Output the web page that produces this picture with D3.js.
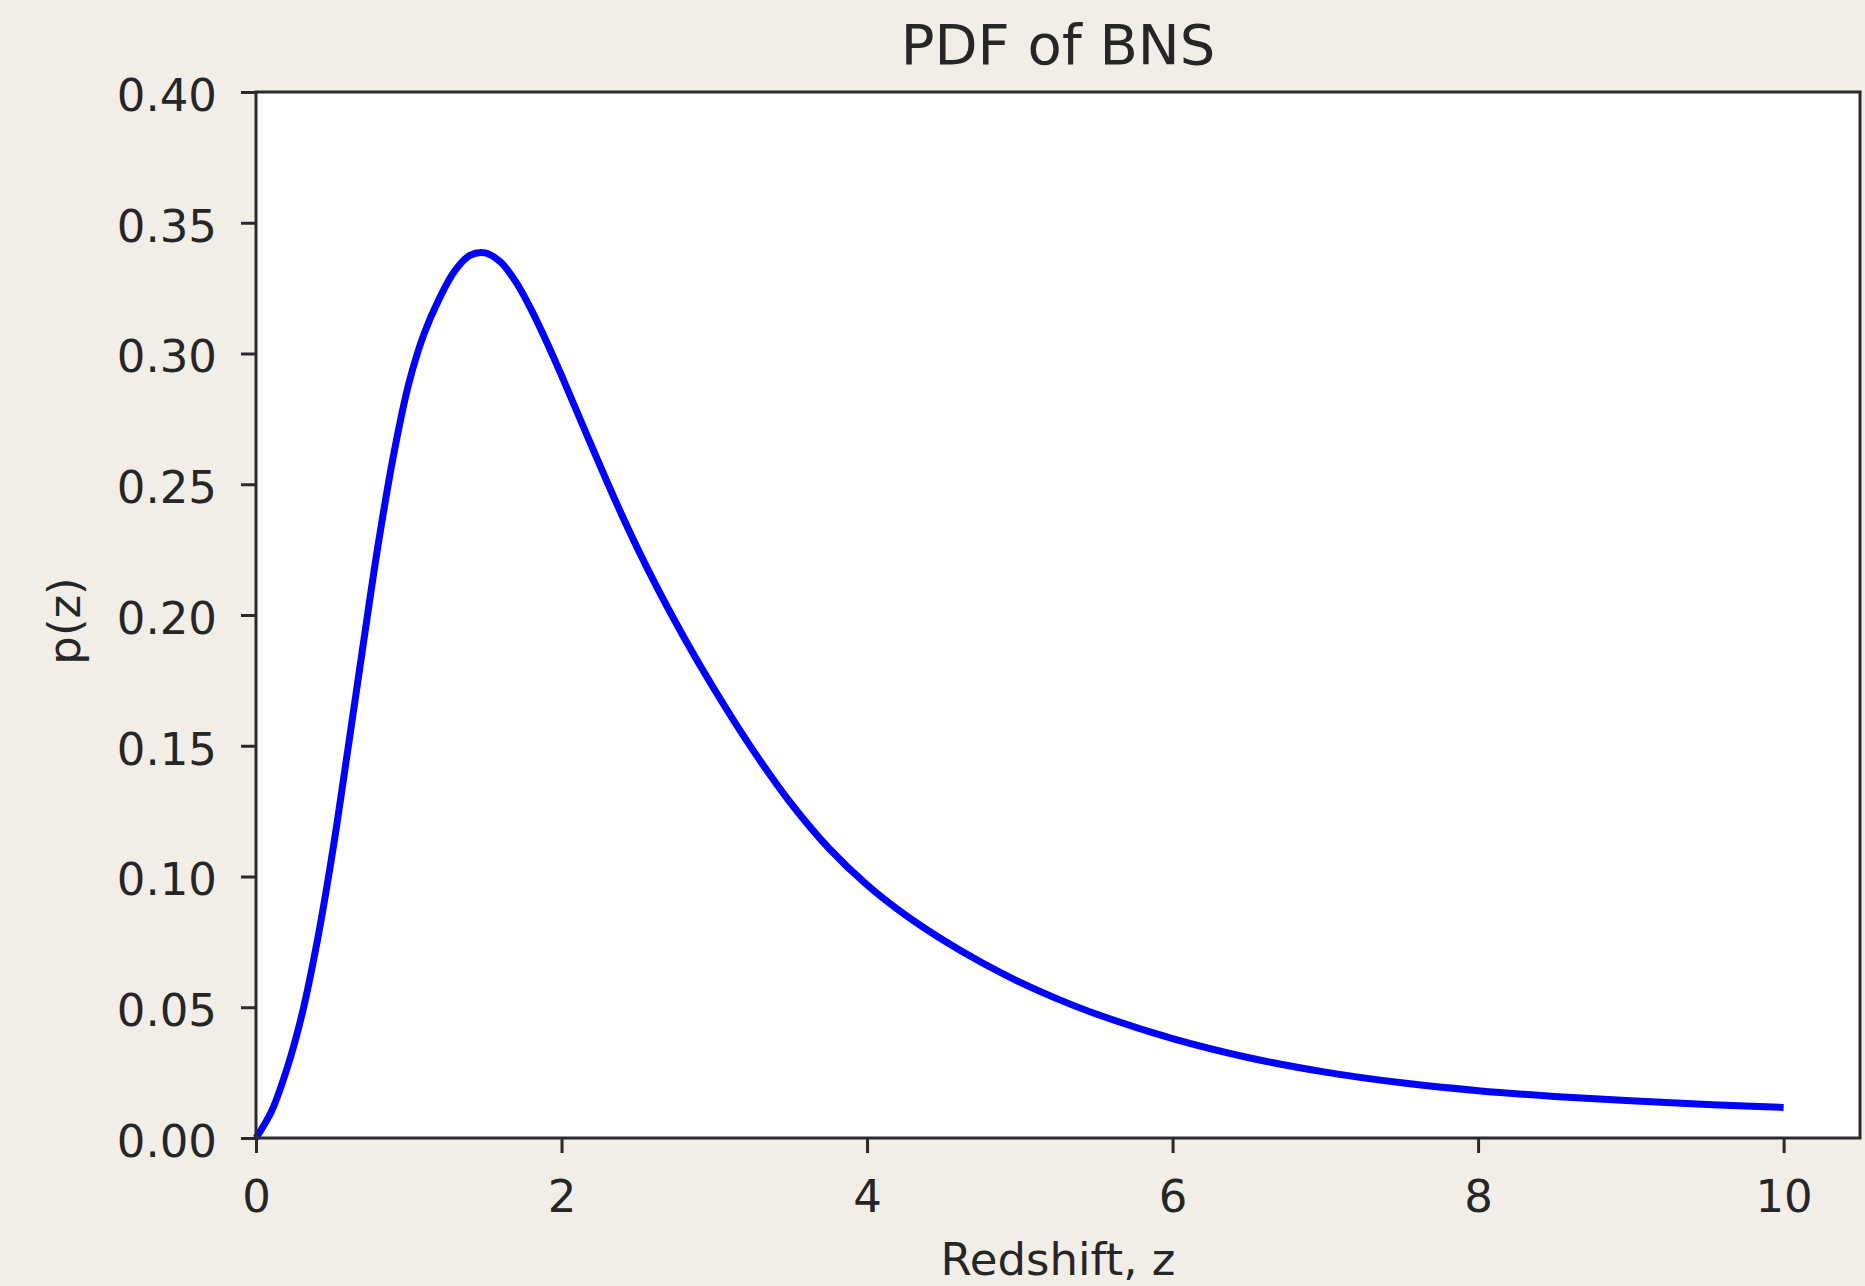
<!DOCTYPE html>
<html>
<head>
<meta charset="utf-8">
<script src="https://cdn.jsdelivr.net/npm/d3@7"></script>
<style>
  html, body { margin: 0; padding: 0; background: #f1eee8; }
  svg { display: block; }
</style>
</head>
<body>
<svg id="chart" width="1865" height="1286"></svg>
<script>
// ---- Data ----
const zValues = [0, 0.1, 0.2, 0.3, 0.4, 0.5, 0.6, 0.7, 0.8, 0.9, 1.0, 1.1, 1.2, 1.3, 1.4, 1.5, 1.6, 1.7, 1.8, 1.9, 2.0, 2.2, 2.4, 2.6, 2.8, 3.0, 3.25, 3.5, 3.75, 4.0, 4.25, 4.5, 4.75, 5.0, 5.25, 5.5, 6.0, 6.5, 7.0, 7.5, 8.0, 8.5, 9.0, 9.5, 10.0];
const pValues = [0, 0.010, 0.026, 0.047, 0.075, 0.109, 0.148, 0.188, 0.227, 0.261, 0.2885, 0.3075, 0.321, 0.3315, 0.3375, 0.3385, 0.3350, 0.3275, 0.3170, 0.3048, 0.2916, 0.2642, 0.2376, 0.2134, 0.1916, 0.1716, 0.1486, 0.1281, 0.1108, 0.0968, 0.0853, 0.0756, 0.0671, 0.0596, 0.0531, 0.0474, 0.0380, 0.0307, 0.0252, 0.0211, 0.0181, 0.0159, 0.0142, 0.0128, 0.0117];
const xTicks = [0, 2, 4, 6, 8, 10];
const xTickLabels = ["0", "2", "4", "6", "8", "10"];
const yTicks = [0, 0.05, 0.10, 0.15, 0.20, 0.25, 0.30, 0.35, 0.40];
const yTickLabels = ["0.00", "0.05", "0.10", "0.15", "0.20", "0.25", "0.30", "0.35", "0.40"];
const titleText = "PDF of BNS";
const xLabelText = "Redshift, z";
const yLabelText = "p(z)";

// ---- Layout ----
const L = 256, R = 1860, T = 92, B = 1138;
const FONT = "'DejaVu Sans', sans-serif";
const TEXT_COLOR = "#262626";

const svg = d3.select("#chart");
const x = d3.scaleLinear().domain([0, 10.5]).range([L, R]);
const y = d3.scaleLinear().domain([0, 0.4]).range([B, T]);

// plot background
svg.append("rect").attr("x", L).attr("y", T).attr("width", R - L).attr("height", B - T)
  .attr("fill", "#ffffff");

// line
const pts = zValues.map((z, i) => [z, pValues[i]]);
svg.append("path")
  .datum(pts)
  .attr("fill", "none")
  .attr("stroke", "#0000ff")
  .attr("stroke-width", 7)
  .attr("stroke-linecap", "butt")
  .attr("stroke-linejoin", "round")
  .attr("d", d3.line().x(d => x(d[0])).y(d => y(d[1])).curve(d3.curveCatmullRom.alpha(0.5)));

// axes
const xAxis = d3.axisBottom(x).tickValues(xTicks)
  .tickFormat((d, i) => xTickLabels[i]).tickSize(15).tickPadding(27).tickSizeOuter(0);
const yAxis = d3.axisLeft(y).tickValues(yTicks)
  .tickFormat((d, i) => yTickLabels[i]).tickSize(15).tickPadding(24).tickSizeOuter(0);

const gx = svg.append("g").attr("transform", `translate(0,${B})`).call(xAxis);
const gy = svg.append("g").attr("transform", `translate(${L},0)`).call(yAxis);

[gx, gy].forEach(g => {
  g.select(".domain").remove();
  g.selectAll(".tick line").attr("stroke", "#2a2a2a").attr("stroke-width", 3);
  g.selectAll(".tick text").attr("fill", TEXT_COLOR)
    .style("font-family", FONT).style("font-size", "45px");
});
gy.selectAll(".tick text").attr("dy", "0.41em");

// spines (frame)
svg.append("rect").attr("x", L).attr("y", T).attr("width", R - L).attr("height", B - T)
  .attr("fill", "none").attr("stroke", "#2a2a2a").attr("stroke-width", 3);

// title
svg.append("text").attr("x", (L + R) / 2).attr("y", 64)
  .attr("text-anchor", "middle").attr("fill", TEXT_COLOR)
  .style("font-family", FONT).style("font-size", "56px")
  .text(titleText);

// x label
svg.append("text").attr("x", (L + R) / 2).attr("y", 1275)
  .attr("text-anchor", "middle").attr("fill", TEXT_COLOR)
  .style("font-family", FONT).style("font-size", "45px")
  .text(xLabelText);

// y label
svg.append("text")
  .attr("transform", `translate(80,${(T + B) / 2 + 6}) rotate(-90)`)
  .attr("text-anchor", "middle").attr("fill", TEXT_COLOR)
  .style("font-family", FONT).style("font-size", "45px")
  .text(yLabelText);
</script>
</body>
</html>
